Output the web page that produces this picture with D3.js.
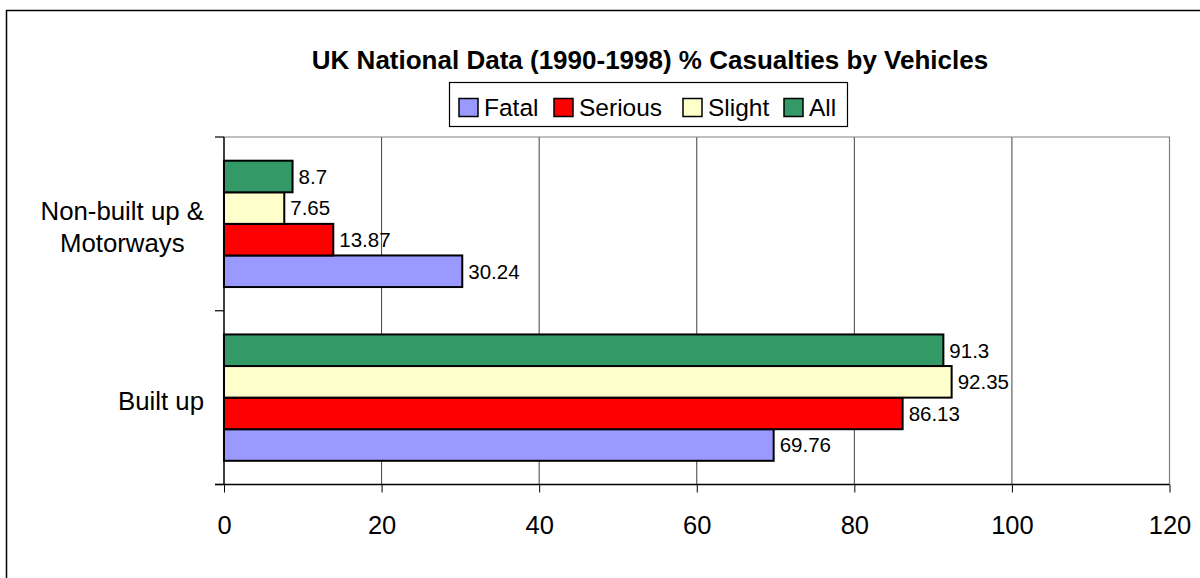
<!DOCTYPE html>
<html lang="en">
<head>
  <meta charset="UTF-8">
  <title>UK casualties by vehicles</title>
  <script src="https://d3js.org/d3.v7.min.js"></script>
  <style>
    body { margin: 0; background: #fff; }
    text { font-family: "Liberation Sans", Arial, sans-serif; fill: #000; }
  </style>
</head>
<body>
  <svg width="1200" height="578"></svg>

  <script>
    // data
    let categories = ["Non-built up & Motorways", "Built up"];
    let categoryLines = [["Non-built up &", "Motorways"], ["Built up"]];
    let seriesNames = ["Fatal", "Serious", "Slight", "All"];
    let seriesColors = ["#9999FF", "#FF0000", "#FFFFCC", "#339966"];
    let fatal = [30.24, 69.76];
    let serious = [13.87, 86.13];
    let slight = [7.65, 92.35];
    let all = [8.7, 91.3];
    let seriesValues = [fatal, serious, slight, all];
    let xTicks = [0, 20, 40, 60, 80, 100, 120];

    let svg = d3.select("svg");

    // outer frame (runs past right/bottom edge)
    svg.append("rect")
      .attr("x", 6.5).attr("y", 10.5)
      .attr("width", 1300).attr("height", 700)
      .attr("fill", "none").attr("stroke", "#000").attr("stroke-width", 1.5);

    let plotLeft = 224, plotRight = 1169.5, plotTop = 137, plotBottom = 484.5;

    let x = d3.scaleLinear().domain([0, 120]).range([plotLeft, plotRight]);
    let y = d3.scaleBand().domain(categories).range([plotTop, plotBottom]);
    let gap = 23.7;
    // top to bottom inside a group: All, Slight, Serious, Fatal
    let inner = d3.scaleBand().domain(seriesNames.slice().reverse())
      .range([gap, y.bandwidth() - gap]);

    // gridlines
    svg.append("g").selectAll("line")
      .data(xTicks.slice(1, -1))
      .join("line")
      .attr("x1", d => x(d)).attr("x2", d => x(d))
      .attr("y1", plotTop).attr("y2", plotBottom)
      .attr("stroke", "#404040").attr("stroke-width", 1);

    // plot border top & right
    svg.append("path")
      .attr("d", `M${plotLeft},${plotTop}H${plotRight}V${plotBottom}`)
      .attr("fill", "none").attr("stroke", "#808080").attr("stroke-width", 1.2);

    // bars
    let bars = [];
    seriesNames.forEach((s, i) => {
      categories.forEach((c, j) => {
        bars.push({ series: s, cat: c, value: seriesValues[i][j], color: seriesColors[i] });
      });
    });

    svg.append("g").selectAll("rect")
      .data(bars)
      .join("rect")
      .attr("x", x(0))
      .attr("y", d => y(d.cat) + inner(d.series))
      .attr("width", d => x(d.value) - x(0))
      .attr("height", inner.bandwidth())
      .attr("fill", d => d.color)
      .attr("stroke", "#000").attr("stroke-width", 2);

    svg.append("g").selectAll("text")
      .data(bars)
      .join("text")
      .attr("x", d => x(d.value) + 6)
      .attr("y", d => y(d.cat) + inner(d.series) + inner.bandwidth() / 2)
      .attr("dy", "0.36em")
      .attr("font-size", 20.5)
      .text(d => d.value);

    // x axis
    let xAxis = d3.axisBottom(x).tickValues(xTicks).tickSize(8).tickPadding(23)
      .tickFormat(d3.format("d"));
    let gx = svg.append("g").attr("transform", `translate(0,${plotBottom})`).call(xAxis);
    gx.select(".domain").attr("stroke", "#000").attr("stroke-width", 1.5)
      .attr("d", `M${plotLeft - 9},0H${plotRight}`);
    gx.selectAll(".tick line").attr("stroke", "#000");
    gx.selectAll("text").attr("font-size", 25.5).attr("font-family", "Liberation Sans, Arial, sans-serif");

    // y axis line + ticks at band edges
    svg.append("line")
      .attr("x1", plotLeft).attr("x2", plotLeft).attr("y1", plotTop).attr("y2", plotBottom)
      .attr("stroke", "#000").attr("stroke-width", 1.5);
    svg.append("g").selectAll("line")
      .data(categories.map(c => y(c)).concat([plotBottom]))
      .join("line")
      .attr("x1", plotLeft - 9).attr("x2", plotLeft)
      .attr("y1", d => d).attr("y2", d => d)
      .attr("stroke", "#000").attr("stroke-width", 1.2);

    // category labels, block right-aligned at 204, lines centered
    categories.forEach((c, j) => {
      let lines = categoryLines[j];
      let g = svg.append("g");
      let lh = 32;
      let cy = y(c) + y.bandwidth() / 2 + 3;
      let texts = g.selectAll("text").data(lines).join("text")
        .attr("font-size", 25.8)
        .attr("text-anchor", "middle")
        .attr("y", (d, k) => cy + (k - (lines.length - 1) / 2) * lh)
        .attr("dy", "0.36em")
        .text(d => d);
      let maxW = d3.max(texts.nodes(), n => n.getComputedTextLength());
      texts.attr("x", 204 - maxW / 2);
    });

    // title
    svg.append("text")
      .attr("x", 650).attr("y", 60).attr("dy", "0.36em")
      .attr("text-anchor", "middle")
      .attr("font-size", 26).attr("font-weight", "bold")
      .text("UK National Data (1990-1998) % Casualties by Vehicles");

    // legend
    let legend = svg.append("g");
    legend.append("rect")
      .attr("x", 449.5).attr("y", 82.5).attr("width", 398).attr("height", 44)
      .attr("fill", "#fff").attr("stroke", "#000").attr("stroke-width", 1.2);
    let legendX = [459, 554, 683, 784];
    seriesNames.forEach((s, i) => {
      legend.append("rect")
        .attr("x", legendX[i]).attr("y", 98.5).attr("width", 19).attr("height", 18)
        .attr("fill", seriesColors[i]).attr("stroke", "#000").attr("stroke-width", 1.5);
      legend.append("text")
        .attr("x", legendX[i] + 25).attr("y", 107).attr("dy", "0.36em")
        .attr("font-size", 24.5)
        .text(s);
    });
  </script>
</body>
</html>
